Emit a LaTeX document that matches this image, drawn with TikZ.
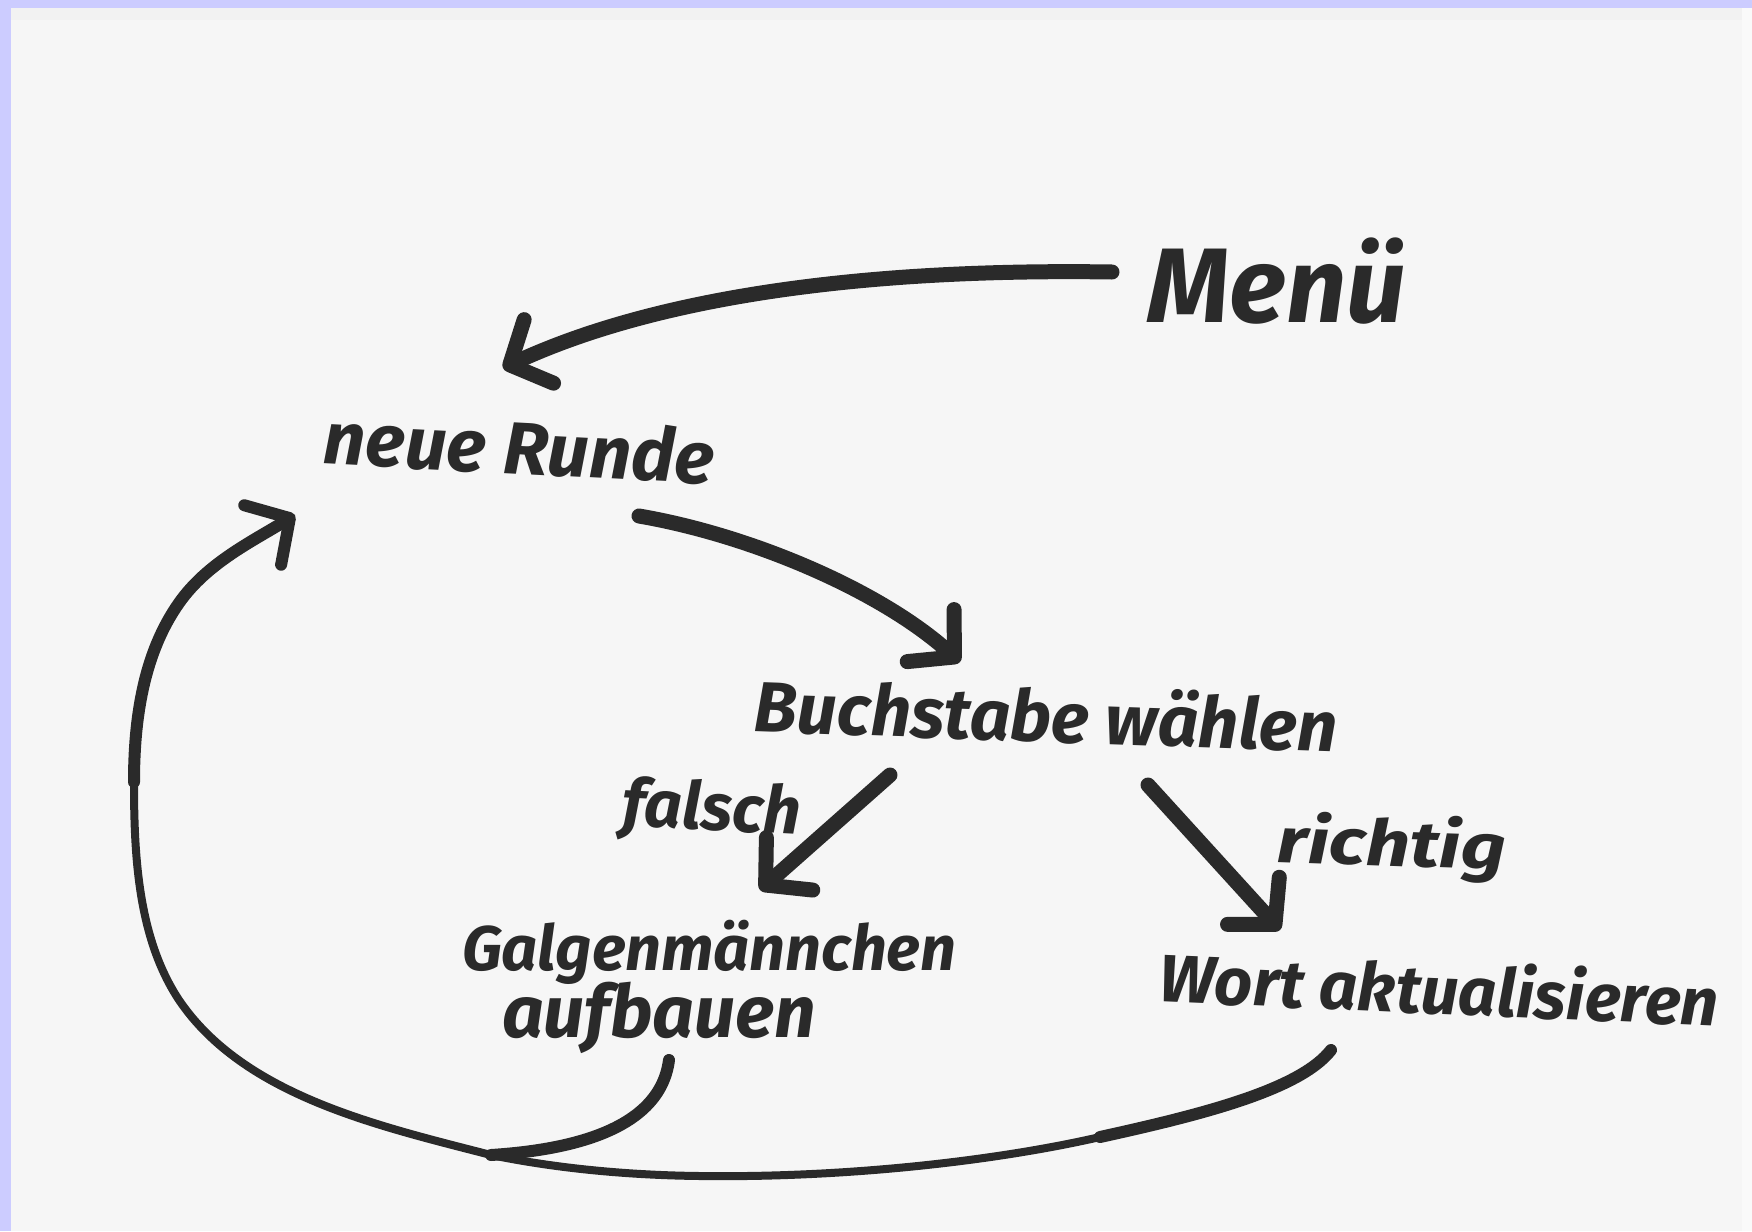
\documentclass[tikz,border=0pt]{standalone}
\usepackage{fontspec}
\setmainfont{Fira Sans}
\usetikzlibrary{arrows.meta,calc}
\definecolor{ink}{HTML}{2A2A2A}
\definecolor{paper}{HTML}{F6F6F6}
\definecolor{frame}{HTML}{CCCCFF}
\newcommand\hwfont[1]{\fontsize{#1}{#1}\selectfont\bfseries\itshape}
\begin{document}
\begin{tikzpicture}[x=1pt,y=-1pt,
  hw/.style={text=ink, inner sep=0pt, outer sep=0pt},
  pen/.style={draw=ink, line width=15pt, line cap=round, line join=round},
  midpen/.style={draw=ink, line width=12pt, line cap=round, line join=round},
  thinpen/.style={draw=ink, line width=8pt, line cap=round, line join=round},
  arr/.style={-{Straight Barb[length=32pt,width=70pt,round]}}
]
\fill[frame] (0,0) rectangle (1752,1231);
\useasboundingbox (0,0) rectangle (1752,1231);
\fill[paper] (11,8) rectangle (1742,1231);
\fill[white!95!black] (11,8) rectangle (1742,20);
\fill[white!98!black] (1742,8) rectangle (1752,1231);

% texts
\node[hw, anchor=base, font=\hwfont{106}] (menu) at (1277,322) {Menü};
\node[hw, anchor=base, rotate=-3, font=\hwfont{74}] (neue) at (518,474) {neue Runde};
\node[hw, anchor=base, rotate=-2, font=\hwfont{71}] (buch) at (1045,742) {Buchstabe wählen};
\node[hw, anchor=base, rotate=-3, font=\hwfont{66}] (falsch) at (711,830) {falsch};
\node[hw, anchor=base, rotate=-2, font=\hwfont{64}] (richtig) at (1391,866) {\scalebox{1.22}[1]{richtig}};
\node[hw, anchor=base west, font=\hwfont{63}] (galgen) at (462,970) {Galgenmännchen};
\node[hw, anchor=base west, font=\hwfont{73}] (galgenb) at (502,1037) {aufbauen};
\node[hw, anchor=base, rotate=-2.5, font=\hwfont{67}] (wort) at (1438,1014) {Wort aktualisieren};

\coordinate (merge) at (491,1155);

% connectors
\draw[pen, arr] ($(menu.base)+(-165,-50)$)
  .. controls (850,268) and (650,300) .. ($(neue.base)+(-15,-106)$);
\draw[pen, arr] ($(neue.base)+(121,42)$)
  .. controls (750,535) and (880,590) .. ($(buch.base)+(-85,-80)$);
\draw[pen, arr] ($(buch.base)+(-155,33)$) -- ($(galgen.base west)+(298,-80)$);
\draw[pen, arr] ($(buch.base)+(103,43)$) -- ($(wort.base)+(-158,-84)$);

% return paths
\draw[midpen] ($(galgenb.base west)+(167,23)$)
  .. controls (660,1130) and (570,1150) .. (merge);
\draw[midpen] ($(wort.base)+(-107,36)$)
  .. controls (1300,1090) and (1200,1115) .. (1100,1137);
\draw[thinpen] (1100,1137)
  .. controls (1000,1160) and (850,1178) .. (700,1176)
  .. controls (610,1175) and (540,1165) .. (merge);
\draw[thinpen] (merge)
  .. controls (379,1126) and (244,1096) .. (179,1000)
  .. controls (138,938) and (134,856) .. (134,782)
  .. controls (134,720) and (143,654) .. (179,603);
\draw[midpen, arr] (134,782)
  .. controls (134,720) and (143,654) .. (179,603)
  .. controls (207,563) and (253,541) .. ($(neue.base)+(-223,41)$);
\end{tikzpicture}
\end{document}
